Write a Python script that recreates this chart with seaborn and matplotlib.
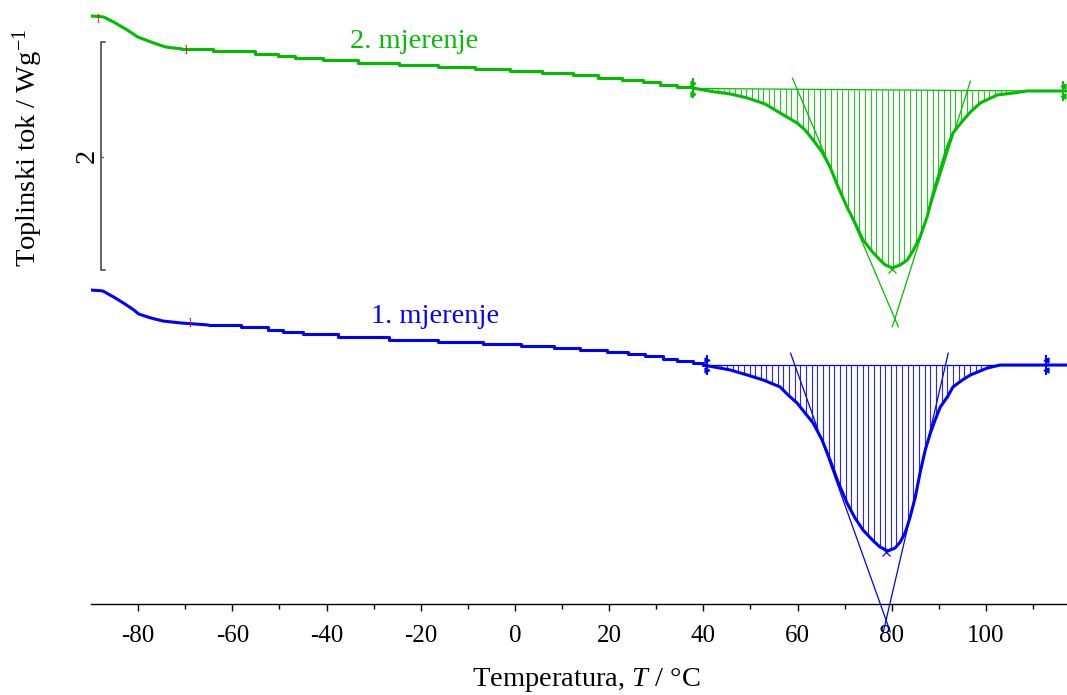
import numpy as np
import matplotlib
matplotlib.use("Agg")
import matplotlib.pyplot as plt
from matplotlib.ticker import FixedLocator
import seaborn as sns

# ---------------- data ----------------
# 2. mjerenje (green) - glass transition descent
g_init_T = [-90.0, -87.3, -85.2, -82.3, -80.1, -76.7, -74.2, -70.6]
g_init_Q = [5.158, 5.149, 5.105, 5.035, 4.974, 4.921, 4.886, 4.868]
# 2. mjerenje - stepped flat part
g_flat_T = [-70.6, -64.0, -55.1, -50.4, -46.6, -40.8, -33.4, -24.7, -16.4, -8.4,
            -1.0, 5.8, 12.4, 17.7, 22.8, 27.1, 30.9, 34.5, 37.7]
g_flat_Q = [4.868, 4.851, 4.827, 4.807, 4.789, 4.772, 4.748, 4.728, 4.708, 4.693,
            4.675, 4.658, 4.640, 4.614, 4.596, 4.579, 4.553, 4.535, 4.526]
# 2. mjerenje - melting peak
g_peak_T = [37.7, 42.1, 45.7, 49.3, 53.1, 56.3, 59.9, 61.6, 63.3, 65.2, 66.9, 68.6,
            70.5, 72.2, 73.9, 75.9, 77.5, 78.6, 80.1, 81.8, 83.3, 84.6, 86.0, 87.5,
            88.8, 90.3, 91.8, 93.0, 95.2, 96.7, 98.8, 102.4, 105.8, 108.7, 117.2]
g_peak_Q = [4.526, 4.494, 4.474, 4.439, 4.386, 4.307, 4.219, 4.158, 4.070, 3.965,
            3.833, 3.658, 3.482, 3.342, 3.193, 3.088, 3.018, 2.974, 2.947, 2.974,
            3.018, 3.105, 3.219, 3.395, 3.605, 3.807, 4.009, 4.132, 4.246, 4.316,
            4.395, 4.465, 4.482, 4.500, 4.500]
g_base_T = [37.7, 116.4]
g_base_Q = [4.522, 4.498]
g_tan1_T = [58.9, 81.4]
g_tan1_Q = [4.614, 2.430]
g_tan2_T = [96.7, 80.1]
g_tan2_Q = [4.588, 2.430]
g_peak_mark = (80.1, 2.935)

# 1. mjerenje (blue) - glass transition descent
b_init_T = [-90.0, -87.5, -85.2, -83.1, -80.9, -79.9, -77.3, -74.7, -70.9, -65.0]
b_init_Q = [2.754, 2.746, 2.693, 2.640, 2.579, 2.544, 2.509, 2.482, 2.465, 2.447]
# 1. mjerenje - stepped flat part
b_flat_T = [-65.0, -58.2, -52.5, -49.3, -44.9, -37.5, -26.8, -16.4, -6.7, 1.2, 8.2,
            13.9, 19.6, 23.9, 27.7, 31.5, 34.5, 37.7, 40.0]
b_flat_Q = [2.447, 2.430, 2.404, 2.386, 2.368, 2.342, 2.320, 2.298, 2.281, 2.263, 2.246,
            2.228, 2.211, 2.193, 2.171, 2.149, 2.132, 2.114, 2.096]
# 1. mjerenje - melting peak
b_peak_T = [40.0, 45.7, 49.3, 52.7, 56.3, 58.0, 59.9, 61.6, 63.3, 65.2, 66.9, 68.6,
            70.5, 72.2, 73.9, 75.9, 77.5, 79.2, 80.7, 81.8, 82.9, 83.9, 85.0, 86.0,
            87.1, 88.2, 89.2, 90.3, 91.8, 93.0, 95.0, 96.7, 100.3, 103.0, 117.2]
b_peak_Q = [2.096, 2.053, 2.009, 1.965, 1.904, 1.833, 1.763, 1.675, 1.588, 1.439,
            1.263, 1.070, 0.886, 0.754, 0.649, 0.561, 0.500, 0.465, 0.491, 0.544,
            0.632, 0.763, 0.939, 1.149, 1.351, 1.500, 1.614, 1.728, 1.816, 1.904,
            1.965, 2.009, 2.070, 2.096, 2.096]
b_base_T = [40.8, 112.8]
b_base_Q = [2.096, 2.096]
b_tan1_T = [58.5, 79.7]
b_tan1_Q = [2.202, -0.246]
b_tan2_T = [92.0, 78.2]
b_tan2_Q = [2.202, -0.246]
b_peak_mark = (78.8, 0.456)

x_major = [-80, -60, -40, -20, 0, 20, 40, 60, 80, 100]
x_minor = [-70, -50, -30, -10, 10, 30, 50, 70, 90, 110]
scale_bar_Q = [4.930, 2.930]   # 2 W/g
labels = ["2. mjerenje", "1. mjerenje"]

GREEN = "#00BD00"
BLUE = "#0000FF"

# ---------------- style ----------------
sns.set_theme(style="white")
plt.rcParams["font.family"] = ["Liberation Serif", "DejaVu Serif"]
plt.rcParams["mathtext.fontset"] = "custom"
plt.rcParams["mathtext.rm"] = "Liberation Serif"
plt.rcParams["mathtext.it"] = "Liberation Serif:italic"
plt.rcParams["axes.unicode_minus"] = False
plt.rcParams["text.color"] = "black"
plt.rcParams["xtick.color"] = "black"
plt.rcParams["xtick.labelcolor"] = "black"

fig = plt.figure(figsize=(10.67, 6.95), dpi=100)
ax = fig.add_axes([91 / 1067, 91 / 695, 976 / 1067, 604 / 695])
ax.set_xlim(-90, 117.2)
ax.set_ylim(0, 5.298)
ax.patch.set_alpha(0)


def draw_run(init_T, init_Q, flat_T, flat_Q, peak_T, peak_Q, base_T, base_Q,
             t1T, t1Q, t2T, t2Q, mark, color):
    # hatching between baseline and the peak
    hT = np.arange(base_T[0] + 0.6, base_T[1], 1.2)
    base = np.interp(hT, base_T, base_Q)
    curve = np.interp(hT, peak_T, peak_Q)
    m = curve < base
    ax.vlines(hT[m], curve[m], base[m], color=color, lw=0.8, alpha=0.85, zorder=2)
    ax.plot(base_T, base_Q, color=color, lw=0.9, zorder=2)
    sns.lineplot(x=init_T, y=init_Q, ax=ax, color=color, lw=2.2,
                 estimator=None, sort=False, zorder=4)
    sns.lineplot(x=flat_T, y=flat_Q, ax=ax, color=color, lw=2.2, drawstyle="steps-post",
                 estimator=None, sort=False, zorder=4)
    sns.lineplot(x=peak_T, y=peak_Q, ax=ax, color=color, lw=2.2,
                 estimator=None, sort=False, zorder=4)
    ax.plot(t1T, t1Q, color=color, lw=0.9, clip_on=False, zorder=3)
    ax.plot(t2T, t2Q, color=color, lw=0.9, clip_on=False, zorder=3)
    ax.plot([mark[0]], [mark[1]], marker="x", ms=6, mew=0.9, color=color, zorder=5)
    # integration limit markers
    for i, (tx, qy) in enumerate(zip(base_T, base_Q)):
        ax.plot([tx], [qy], marker="|", ms=14, mew=1.4, color=color, zorder=5)
        mk = ">" if i == 0 else "<"
        ax.plot([tx], [qy + 0.045], marker=mk, ms=3.5, color=color, zorder=5)
        ax.plot([tx], [qy - 0.045], marker=mk, ms=3.5, color=color, zorder=5)


draw_run(g_init_T, g_init_Q, g_flat_T, g_flat_Q, g_peak_T, g_peak_Q, g_base_T, g_base_Q,
         g_tan1_T, g_tan1_Q, g_tan2_T, g_tan2_Q, g_peak_mark, GREEN)
draw_run(b_init_T, b_init_Q, b_flat_T, b_flat_Q, b_peak_T, b_peak_Q, b_base_T, b_base_Q,
         b_tan1_T, b_tan1_Q, b_tan2_T, b_tan2_Q, b_peak_mark, BLUE)

# small red glass-transition limit markers
ax.text(-88.6, 5.140, "[", color="red", fontsize=8, ha="center", va="center", zorder=6)
ax.text(-70.0, 4.868, "]", color="red", fontsize=8, ha="center", va="center", zorder=6)
ax.text(-69.1, 2.465, "]", color="red", fontsize=8, ha="center", va="center", zorder=6)

# curve labels
ax.text(-21.3, 4.877, labels[0], color=GREEN, fontsize=20.5, ha="center", va="baseline")
ax.text(-16.9, 2.465, labels[1], color=BLUE, fontsize=20.5, ha="center", va="baseline")

# scale bar (2 W/g)
sb_x = -87.95
ax.plot([sb_x, sb_x], scale_bar_Q, color="#555555", lw=1.3, solid_capstyle="butt")
for qv in scale_bar_Q:
    ax.plot([sb_x, sb_x + 0.9], [qv, qv], color="#555555", lw=1.3)
ax.plot([sb_x, sb_x + 0.6], [3.92, 3.92], color="#555555", lw=0.9)
ax.text(sb_x - 2.9, 3.93, "2", rotation=90, fontsize=20.5, ha="center", va="center")

# axes
for s in ["left", "right", "top"]:
    ax.spines[s].set_visible(False)
ax.spines["bottom"].set_color("black")
ax.spines["bottom"].set_linewidth(1.0)
ax.set_yticks([])
ax.xaxis.set_major_locator(FixedLocator(x_major))
ax.xaxis.set_minor_locator(FixedLocator(x_minor))
ax.set_xticklabels([str(v) for v in x_major])
ax.tick_params(axis="x", which="major", direction="out", length=5, width=1,
               color="black", labelcolor="black", labelsize=18, pad=10, bottom=True)
ax.tick_params(axis="x", which="minor", direction="out", length=3.5, width=1,
               color="black", bottom=True)
ax.set_xlabel("")
ax.set_ylabel("")

fig.text(586 / 1067, 1 - 680 / 695, "Temperatura, $T$ / °C", fontsize=20.5,
         ha="center", va="center", color="black")
fig.text(28 / 1067, 1 - 148 / 695, "Toplinski tok / Wg$^{\\mathrm{-1}}$", fontsize=20.5,
         rotation=90, ha="center", va="center", color="black")

fig.savefig("out.png", dpi=100)
